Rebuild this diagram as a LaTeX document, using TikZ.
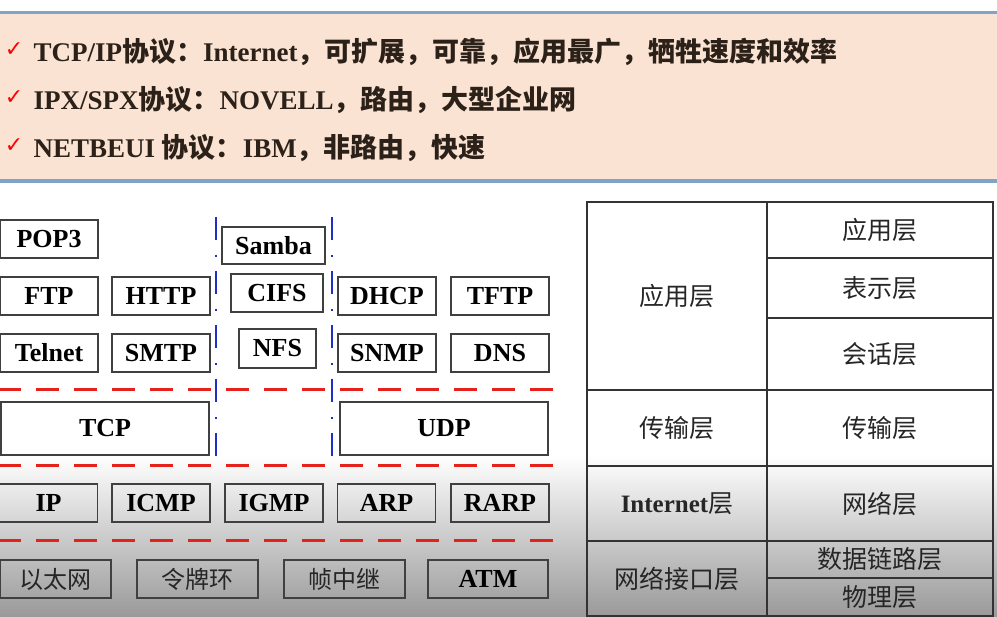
\documentclass[tikz,border=0pt]{standalone}
\usepackage{fontspec}
\setmainfont{Liberation Serif}
\newfontfamily\cjk{Noto Sans CJK SC}
\newfontfamily\symb{DejaVu Sans}
\usepackage{tikz}
\usetikzlibrary{positioning}

\definecolor{peach}{HTML}{FBE3D3}
\definecolor{bannerline}{HTML}{7FA5C6}
\definecolor{dashred}{HTML}{E5211B}
\definecolor{dashblue}{HTML}{1D2FC8}
\definecolor{ink}{HTML}{2B2118}

\begin{document}
\begin{tikzpicture}[x=1pt, y=-1pt, node distance=57pt, on grid,
    proto/.style={draw=black!75, line width=1.3pt, minimum width=98pt, minimum height=38pt,
        inner sep=0pt, font=\fontsize{26}{26}\selectfont\bfseries},
    zhproto/.style={proto, text=black!85, font=\fontsize{24}{24}\selectfont\cjk},
    cell/.style={draw=black!80, line width=1.5pt, inner sep=0pt, text=black!85,
        font=\fontsize{25}{25}\selectfont\cjk},
    bullet/.style={anchor=west, text=ink, font=\fontsize{27}{27}\selectfont\bfseries},
    tick/.style={text=red, font=\symb\fontsize{22}{22}\selectfont},
    sep/.style={dashred, line width=3pt, dash pattern=on 23pt off 15pt},
    split/.style={dashblue, line width=2.2pt, dash pattern=on 23pt off 15pt on 2pt off 14pt}]

    \useasboundingbox (0,0) rectangle (997,617);
    \fill[white] (0,0) rectangle (997,455);
    \shade[top color=white, bottom color=black!40] (0,455) rectangle (997,617);

    % banner
    \fill[peach] (0,13) rectangle (997,181);
    \draw[bannerline, line width=3pt] (0,13) -- (997,13);
    \draw[bannerline, line width=3.5pt] (0,181) -- (997,181);

    \node[tick] (chk1) at (14,50) {✓};
    \node[tick] (chk2) at (14,98) {✓};
    \node[tick] (chk3) at (14,146) {✓};
    \node[bullet] (tcpip) at (30,52) {TCP/IP{\cjk 协议：}Internet{\cjk ，可扩展，可靠，应用最广，牺牲速度和效率}};
    \node[bullet] (ipx) at (30,100) {IPX/SPX{\cjk 协议：}NOVELL{\cjk ，路由，大型企业网}};
    \node[bullet] (netbeui) at (30,148) {NETBEUI {\cjk 协议：}IBM{\cjk ，非路由，快速}};

    % application protocols
    \node[proto] (pop3) at (49,239) {POP3};
    \node[proto, below=of pop3] (ftp) {FTP};
    \node[proto, below=of ftp] (telnet) {Telnet};
    \node[proto, right=112pt of ftp] (http) {HTTP};
    \node[proto, right=112pt of telnet] (smtp) {SMTP};
    \node[proto, right=226pt of http] (dhcp) {DHCP};
    \node[proto, right=226pt of smtp] (snmp) {SNMP};
    \node[proto, right=113pt of dhcp] (tftp) {TFTP};
    \node[proto, right=113pt of snmp] (dns) {DNS};

    \node[proto, minimum width=103pt, minimum height=37pt] (samba) at (273.5,245.5) {Samba};
    \node[proto, minimum width=92pt] (cifs) at (277,293) {CIFS};
    \node[proto, minimum width=77pt, minimum height=39pt] (nfs) at (277.5,348.5) {NFS};

    % transport
    \node[proto, minimum width=208pt, minimum height=53pt] (tcp) at (105,428.5) {TCP};
    \node[proto, minimum width=208pt, minimum height=53pt, right=339pt of tcp] (udp) {UDP};

    % internet
    \node[proto] (ip) at (48.5,503) {IP};
    \node[proto, right=112.5pt of ip] (icmp) {ICMP};
    \node[proto, right=113pt of icmp] (igmp) {IGMP};
    \node[proto, right=112.5pt of igmp] (arp) {ARP};
    \node[proto, right=113.5pt of arp] (rarp) {RARP};

    % network interface
    \node[zhproto, minimum width=111pt] (eth) at (55.5,579) {以太网};
    \node[zhproto, minimum width=121pt, right=142pt of eth] (token) {令牌环};
    \node[zhproto, minimum width=121pt, right=147pt of token] (frame) {帧中继};
    \node[proto, minimum width=120pt, right=143.5pt of frame] (atm) {ATM};

    % separators
    \draw[sep] (-2,390) -- (560,390);
    \draw[sep] (-2,466) -- (560,466);
    \draw[sep] (-2,541) -- (560,541);
    \draw[split] (216,217) -- (216,458);
    \draw[split] (332,217) -- (332,458);

    % layer table
    \node[cell, minimum width=180pt, minimum height=188pt] (tapp) at (677,296) {应用层};
    \node[cell, minimum width=180pt, minimum height=76pt] (ttrans) at (677,428) {传输层};
    \node[cell, minimum width=180pt, minimum height=75pt] (tinet) at (677,503.5) {{\rmfamily\bfseries Internet}层};
    \node[cell, minimum width=180pt, minimum height=75pt] (tlink) at (677,578.5) {网络接口层};
    \node[cell, minimum width=226pt, minimum height=56pt] (oapp) at (880,230) {应用层};
    \node[cell, minimum width=226pt, minimum height=60pt] (opres) at (880,288) {表示层};
    \node[cell, minimum width=226pt, minimum height=72pt] (osess) at (880,354) {会话层};
    \node[cell, minimum width=226pt, minimum height=76pt] (otrans) at (880,428) {传输层};
    \node[cell, minimum width=226pt, minimum height=75pt] (onet) at (880,503.5) {网络层};
    \node[cell, minimum width=226pt, minimum height=37pt] (odata) at (880,559.5) {数据链路层};
    \node[cell, minimum width=226pt, minimum height=38pt] (ophys) at (880,597) {物理层};

\end{tikzpicture}
\end{document}
